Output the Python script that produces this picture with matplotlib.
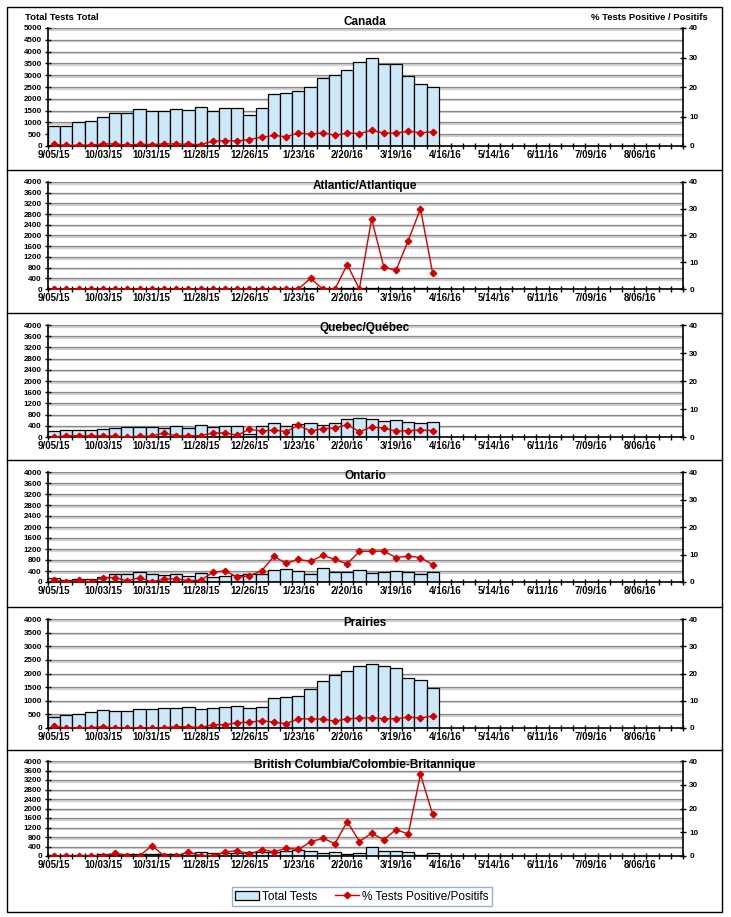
import matplotlib
matplotlib.use("Agg")
import matplotlib.pyplot as plt
import matplotlib.patheffects as pe
from matplotlib.patches import Patch
from matplotlib.lines import Line2D
import numpy as np

plt.rcParams['font.family'] = ['Liberation Sans', 'DejaVu Sans']

# ---------------- data ----------------
week_labels = ["9/05/15", "10/03/15", "10/31/15", "11/28/15", "12/26/15", "1/23/16",
               "2/20/16", "3/19/16", "4/16/16", "5/14/16", "6/11/16", "7/09/16", "8/06/16"]
n_weeks = 52  # 9/05/15 .. 8/27/16

canada_tests = [830, 860, 1020, 1065, 1235, 1405, 1400, 1560, 1475, 1475, 1550, 1520,
                1650, 1490, 1620, 1630, 1320, 1590, 2215, 2230, 2340, 2490, 2870, 3025,
                3225, 3550, 3720, 3480, 3465, 2955, 2630, 2500]
canada_pos = [0.6, 0.2, 0.3, 0.3, 0.7, 0.7, 0.3, 0.6, 0.5, 0.7, 0.7, 0.6, 0.5, 1.6, 1.8, 1.7,
              2.2, 3.0, 3.6, 3.1, 4.4, 4.0, 4.5, 3.6, 4.4, 4.2, 5.3, 4.4, 4.4, 5.0, 4.5, 4.8]

atlantic_tests = [10, 10, 10, 10, 10, 10, 10, 10, 10, 10, 10, 10, 10, 10, 10, 10,
                  15, 15, 20, 25, 30, 40, 45, 45, 40, 35, 30, 30, 25, 25, 20, 20]
atlantic_pos = [0, 0, 0, 0, 0, 0, 0, 0, 0, 0, 0, 0, 0, 0, 0, 0, 0, 0, 0, 0, 0,
                4.0, 0, 0, 9.1, 0, 26.2, 8.2, 7.0, 18.1, 30.0, 5.9]

quebec_tests = [214, 250, 250, 237, 285, 320, 356, 356, 368, 320, 392, 320, 415, 368, 392, 392,
                107, 392, 487, 392, 463, 487, 440, 487, 629, 677, 629, 582, 594, 523, 500, 523]
quebec_pos = [0, 0.5, 0.4, 0.4, 0.4, 0.3, 0, 0.3, 0.3, 1.5, 0.4, 0.4, 0.5, 1.4, 1.5, 0.6,
              2.8, 2.1, 2.5, 1.9, 4.2, 2.1, 3.0, 3.2, 4.4, 1.9, 3.6, 3.2, 2.1, 2.3, 2.5, 2.3]

ontario_tests = [145, 60, 120, 120, 170, 290, 290, 350, 290, 240, 290, 205, 326, 181, 230, 254,
                 278, 278, 423, 459, 399, 290, 519, 362, 362, 423, 326, 362, 411, 362, 278, 362]
ontario_pos = [0.7, 0, 0.6, 0, 1.6, 1.6, 0.4, 1.6, 0, 1.1, 1.1, 0.5, 0.6, 3.5, 4.1, 1.7,
               2.3, 4.1, 9.3, 6.8, 8.2, 7.5, 9.7, 8.2, 6.6, 11.1, 11.2, 11.2, 8.9, 9.4, 8.9, 6.3]

prairies_tests = [405, 466, 528, 589, 650, 614, 614, 687, 687, 748, 748, 785, 687, 736, 785, 822,
                  748, 773, 1104, 1141, 1190, 1448, 1742, 1963, 2098, 2258, 2331, 2258, 2209,
                  1840, 1767, 1472]
prairies_pos = [0.7, 0, 0.1, 0.1, 0.5, 0, 0.1, 0.1, 0, 0.1, 0.5, 0.4, 0.2, 1.2, 1.2, 2.0,
                2.1, 2.7, 2.1, 1.6, 3.4, 3.3, 3.3, 2.5, 3.4, 3.6, 3.8, 3.4, 3.4, 4.0, 3.7, 4.4]

bc_tests = [50, 55, 60, 60, 70, 80, 75, 70, 80, 85, 90, 120, 150, 140, 130, 140,
            150, 160, 180, 200, 267, 211, 113, 183, 99, 141, 366, 197, 211, 155, 28, 113]
bc_pos = [0, 0, 0, 0, 0.1, 1.1, 0.1, 0, 4.4, 0.1, 0, 1.7, 0.1, 0, 1.7, 2.3,
          0.7, 2.7, 1.8, 3.2, 2.8, 5.9, 7.5, 5.2, 14.5, 6.1, 9.6, 6.9, 11.1, 9.3, 34.4, 17.5]

panels = [
    ("Canada", canada_tests, canada_pos, 5000, 500),
    ("Atlantic/Atlantique", atlantic_tests, atlantic_pos, 4000, 400),
    ("Quebec/Québec", quebec_tests, quebec_pos, 4000, 400),
    ("Ontario", ontario_tests, ontario_pos, 4000, 400),
    ("Prairies", prairies_tests, prairies_pos, 4000, 500),
    ("British Columbia/Colombie-Britannique", bc_tests, bc_pos, 4000, 400),
]

# ---------------- layout ----------------
W, H = 731, 917
fig = plt.figure(figsize=(W / 100, H / 100), dpi=100)

# (top_px, bottom_px, title_y_px)
boxes = [(28, 146, 22), (182, 289, 186), (325, 437, 328),
         (472, 582, 476), (619, 728, 623), (761, 856, 765)]
left_px, right_px = 48, 683

bar_color = '#cce9fa'
line_color = '#d40000'
grid_fx = [pe.SimpleLineShadow(offset=(0, -1.2), shadow_color='#d2d2d2', alpha=1.0, linewidth=1.6),
           pe.Normal()]

for (title, tests, pos, ymax, ystep), (tp, bp, ty) in zip(panels, boxes):
    ax = fig.add_axes([left_px / W, 1 - bp / H, (right_px - left_px) / W, (bp - tp) / H])
    x = np.arange(len(tests))
    ax.set_xlim(-0.5, n_weeks - 0.5)
    ax.set_ylim(0, ymax)
    yt = np.arange(0, ymax + 1, ystep)
    for v in yt[1:]:
        ax.axhline(v, color='#8a8a8a', lw=0.9, zorder=0.5, path_effects=grid_fx)
    ax.bar(x, tests, width=1.0, color=bar_color, edgecolor='black', linewidth=0.9, zorder=2)
    ax.set_yticks(yt)
    ax.set_yticklabels([str(v) for v in yt], fontsize=5.8, fontweight='bold')
    ax.tick_params(axis='y', direction='inout', length=5, width=1, pad=2)
    # x ticks: marks at week boundaries, labels at every 4th week center
    ax.set_xticks(np.arange(-0.5, n_weeks, 1.0))
    ax.set_xticklabels([])
    ax.tick_params(axis='x', which='major', direction='inout', length=5, width=1)
    ax.set_xticks(np.arange(0, n_weeks, 4), minor=True)
    ax.set_xticklabels(week_labels, minor=True, fontsize=7, fontweight='bold')
    ax.tick_params(axis='x', which='minor', length=0, pad=3)
    ax.spines['top'].set_visible(False)
    ax.spines['right'].set_visible(False)
    ax.spines['left'].set_linewidth(1.2)
    ax.spines['bottom'].set_linewidth(1.2)
    ax.patch.set_visible(False)

    ax2 = ax.twinx()
    ax2.set_ylim(0, 40)
    ax2.set_yticks([0, 10, 20, 30, 40])
    ax2.set_yticklabels(['0', '10', '20', '30', '40'], fontsize=5.8, fontweight='bold')
    ax2.tick_params(axis='y', direction='inout', length=5, width=1, pad=2)
    ax2.plot(x, pos, color=line_color, lw=1.0, marker='D', markersize=3.3,
             markerfacecolor=line_color, markeredgecolor=line_color, zorder=3)
    for s in ['top', 'left', 'bottom']:
        ax2.spines[s].set_visible(False)
    ax2.spines['right'].set_linewidth(1.2)

    fig.text(365 / W, 1 - ty / H, title, ha='center', va='center',
             fontsize=8.5, fontweight='bold')

fig.text(25 / W, 1 - 17 / H, "Total Tests Total", ha='left', va='center',
         fontsize=6.8, fontweight='bold')
fig.text(708 / W, 1 - 18 / H, "% Tests Positive / Positifs", ha='right', va='center',
         fontsize=6.8, fontweight='bold')

# outer frame and separators
frame_x0, frame_x1, frame_y0, frame_y1 = 7, 722, 7, 912
fig.add_artist(plt.Rectangle((frame_x0 / W, 1 - frame_y1 / H),
                             (frame_x1 - frame_x0) / W, (frame_y1 - frame_y0) / H,
                             transform=fig.transFigure, fill=False, edgecolor='black', lw=1.0))
for sy in [170, 313, 460, 607, 750]:
    fig.add_artist(Line2D([frame_x0 / W, frame_x1 / W], [1 - sy / H, 1 - sy / H],
                          transform=fig.transFigure, color='black', lw=1.0))

handles = [Patch(facecolor=bar_color, edgecolor='black', linewidth=0.9),
           Line2D([], [], color=line_color, lw=1.0, marker='D', markersize=3.3)]
leg = fig.legend(handles, ["Total Tests", "% Tests Positive/Positifs"],
                 loc='center', bbox_to_anchor=(362 / W, 1 - 896.5 / H), ncol=2,
                 fontsize=8.5, frameon=True, fancybox=False, borderpad=0.3,
                 handlelength=2.0, handletextpad=0.3, columnspacing=1.5)
leg.get_frame().set_edgecolor('#7f9fbf')
leg.get_frame().set_linewidth(1.0)

fig.savefig("out.png", dpi=100)
